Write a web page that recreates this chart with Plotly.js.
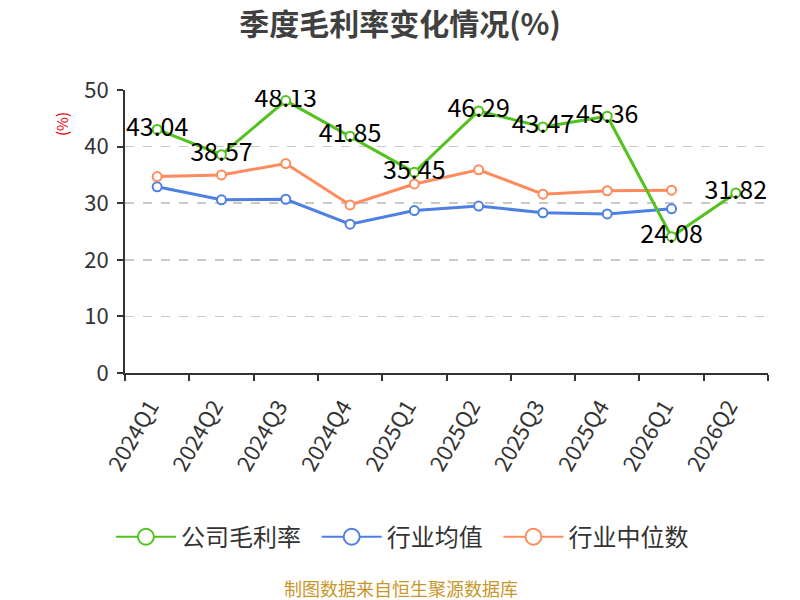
<!DOCTYPE html>
<html>
<head>
<meta charset="utf-8">
<script src="https://cdn.plot.ly/plotly-3.0.1.min.js"></script>
<style>
  html, body { margin: 0; padding: 0; background: #fff; }
  #chart { width: 800px; height: 600px; }
</style>
</head>
<body>
<div id="chart"></div>
<script>
  // 季度
  var quarters = ['2024Q1', '2024Q2', '2024Q3', '2024Q4', '2025Q1', '2025Q2', '2025Q3', '2025Q4', '2026Q1', '2026Q2'];
  // 公司毛利率 (%)
  var companyRate = [43.04, 38.57, 48.13, 41.85, 35.45, 46.29, 43.47, 45.36, 24.08, 31.82];
  // 行业均值 (%)
  var industryMean = [32.9, 30.6, 30.7, 26.3, 28.7, 29.5, 28.3, 28.1, 29.0, null];
  // 行业中位数 (%)
  var industryMedian = [34.7, 35.0, 37.0, 29.7, 33.4, 35.9, 31.6, 32.2, 32.3, null];
  // 图例
  var seriesNames = ['公司毛利率', '行业均值', '行业中位数'];
  var seriesColors = ['#52C21C', '#4E7FE3', '#FF8A5B'];

  var FONT = '"Microsoft YaHei", "Noto Sans CJK SC", "Noto Sans", sans-serif';
  var PAD = '\u00a0\u00a0';

  function lineTrace(values, color) {
    return {
      type: 'scatter',
      mode: 'lines+markers',
      x: quarters,
      y: values,
      showlegend: false,
      line: { color: color, width: 3 },
      marker: { symbol: 'circle', size: 9, color: '#fff', line: { color: color, width: 2 } },
      hoverinfo: 'x+y'
    };
  }

  // legend-only entries with the larger open circle
  function legendTrace(i) {
    return {
      type: 'scatter',
      mode: 'lines+markers',
      name: seriesNames[i] + PAD,
      x: [null],
      y: [null],
      legendrank: i + 1,
      line: { color: seriesColors[i], width: 2 },
      marker: { symbol: 'circle', size: 16, color: '#fff', line: { color: seriesColors[i], width: 2 } }
    };
  }

  var meanTrace = lineTrace(industryMean, seriesColors[1]);
  var medianTrace = lineTrace(industryMedian, seriesColors[2]);
  var companyTrace = lineTrace(companyRate, seriesColors[0]);
  companyTrace.mode = 'lines+markers+text';
  companyTrace.text = companyRate.map(function (v) { return v.toFixed(2); });
  companyTrace.textposition = 'middle center';
  companyTrace.textfont = { family: FONT, size: 25, color: '#000' };

  var layout = {
    width: 800,
    height: 600,
    margin: { l: 125, r: 32, t: 90, b: 227 },
    paper_bgcolor: '#fff',
    plot_bgcolor: '#fff',
    font: { family: FONT, color: '#333' },
    title: {
      text: '<b>季度毛利率变化情况(%)</b>',
      x: 0.5, xanchor: 'center',
      y: 0.96, yanchor: 'middle',
      font: { family: FONT, size: 30, color: '#404040' }
    },
    xaxis: {
      type: 'category',
      range: [-0.5, 9.5],
      tickson: 'boundaries',
      ticks: 'outside',
      ticklen: 6,
      tickcolor: '#333',
      tickwidth: 2,
      tickangle: -60,
      ticklabelstandoff: 10,
      ticklabelshift: -7,
      tickfont: { family: FONT, size: 22, color: '#333' },
      showline: true,
      linecolor: '#333',
      linewidth: 2,
      showgrid: false,
      zeroline: false,
      fixedrange: true
    },
    yaxis: {
      range: [0, 50],
      dtick: 10,
      ticks: 'outside',
      ticklen: 6,
      tickcolor: '#333',
      tickwidth: 2,
      ticklabelstandoff: 4,
      tickfont: { family: FONT, size: 22, color: '#333' },
      showline: true,
      linecolor: '#333',
      linewidth: 2,
      showgrid: true,
      gridcolor: '#c8c8c8',
      griddash: 'dash',
      gridwidth: 1.5,
      zeroline: false,
      fixedrange: true
    },
    legend: {
      orientation: 'h',
      x: 0.44, xanchor: 'center',
      y: -0.58, yanchor: 'middle',
      font: { family: FONT, size: 24, color: '#333' },
      itemwidth: 60
    },
    annotations: [
      {
        text: '(%)',
        xref: 'paper', yref: 'paper',
        x: -0.098, y: 0.88,
        xanchor: 'center', yanchor: 'middle',
        textangle: -90,
        showarrow: false,
        font: { family: FONT, size: 15, color: '#e00' }
      },
      {
        text: '制图数据来自恒生聚源数据库',
        xref: 'paper', yref: 'paper',
        x: 0.43, y: -0.76,
        xanchor: 'center', yanchor: 'middle',
        showarrow: false,
        font: { family: FONT, size: 18, color: '#C9962A' }
      }
    ],
    showlegend: true
  };

  var traces = [meanTrace, medianTrace, companyTrace, legendTrace(0), legendTrace(1), legendTrace(2)];
  Plotly.newPlot('chart', traces, layout, { displayModeBar: false, staticPlot: true });
</script>
</body>
</html>
